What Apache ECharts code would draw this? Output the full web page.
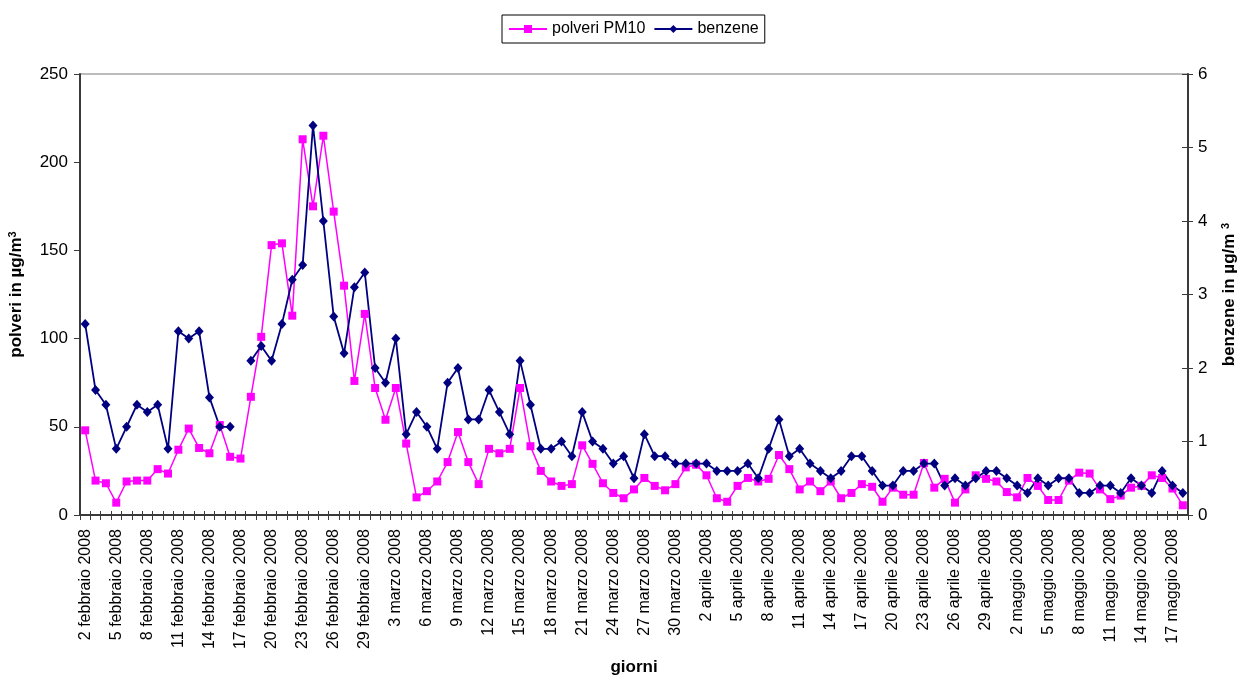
<!DOCTYPE html>
<html>
<head>
<meta charset="utf-8">
<script src="https://cdn.jsdelivr.net/npm/echarts@6/dist/echarts.min.js"></script>
<style>
  html, body { margin: 0; padding: 0; background: #fff; }
  #chart { width: 1239px; height: 680px; }
</style>
</head>
<body>
<div id="chart"></div>
<script>
// Daily readings, 2 February – 18 May 2008
const months = [
  ['febbraio', 2, 29],
  ['marzo', 1, 31],
  ['aprile', 1, 30],
  ['maggio', 1, 18]
];

// PM10 dust, µg/m³ (left axis)
const pm10 = [
  48, 19.5, 18, 7, 19, 19.5, 19.5, 26, 23.5, 37,
  49, 38, 35, 51, 33, 32, 67, 101, 153, 154,
  113, 213, 175, 215, 172, 130, 76, 114, 72, 54,
  72, 40.5, 10, 13.5, 19, 30, 47, 30, 17.5, 37.5,
  35, 37.5, 72, 39, 25, 19, 16.5, 17.5, 39.5, 29,
  18, 12.5, 9.5, 14.5, 21, 16.5, 14, 17.5, 27, 28.5,
  22.5, 9.5, 7.5, 16.5, 21, 19, 20.5, 34, 26, 14.5,
  19, 13.5, 19, 9.5, 12.5, 17.5, 16, 7.5, 15.5, 11.5,
  11.5, 29.5, 15.5, 20.5, 7, 14.5, 22.5, 20.5, 19, 13,
  10, 21, 16.5, 8.5, 8.5, 19.5, 24, 23.5, 14.5, 9,
  11, 15.5, 16.5, 22.5, 21, 15, 5.5
];

// Benzene, µg/m³ (right axis); null = no reading that day
const benzene = [
  2.6, 1.7, 1.5, 0.9, 1.2, 1.5, 1.4, 1.5, 0.9, 2.5,
  2.4, 2.5, 1.6, 1.2, 1.2, null, 2.1, 2.3, 2.1, 2.6,
  3.2, 3.4, 5.3, 4.0, 2.7, 2.2, 3.1, 3.3, 2.0, 1.8,
  2.4, 1.1, 1.4, 1.2, 0.9, 1.8, 2.0, 1.3, 1.3, 1.7,
  1.4, 1.1, 2.1, 1.5, 0.9, 0.9, 1.0, 0.8, 1.4, 1.0,
  0.9, 0.7, 0.8, 0.5, 1.1, 0.8, 0.8, 0.7, 0.7, 0.7,
  0.7, 0.6, 0.6, 0.6, 0.7, 0.5, 0.9, 1.3, 0.8, 0.9,
  0.7, 0.6, 0.5, 0.6, 0.8, 0.8, 0.6, 0.4, 0.4, 0.6,
  0.6, 0.7, 0.7, 0.4, 0.5, 0.4, 0.5, 0.6, 0.6, 0.5,
  0.4, 0.3, 0.5, 0.4, 0.5, 0.5, 0.3, 0.3, 0.4, 0.4,
  0.3, 0.5, 0.4, 0.3, 0.6, 0.4, 0.3
];

const leftTicks = { min: 0, max: 250, step: 50 };
const rightTicks = { min: 0, max: 6, step: 1 };

// Category labels: "2 febbraio 2008", "3 febbraio 2008", ...
const days = [];
months.forEach(([name, first, last]) => {
  for (let d = first; d <= last; d++) days.push(d + ' ' + name + ' 2008');
});

const FONT = '"Liberation Sans", Arial, Helvetica, sans-serif';
const AXIS_COLOR = '#3a3a3a';

const chart = echarts.init(document.getElementById('chart'), null, { renderer: 'canvas' });

chart.setOption({
  backgroundColor: '#ffffff',
  animation: false,
  textStyle: { fontFamily: FONT, color: '#000' },
  legend: {
    left: 502,
    top: 15,
    padding: [6, 6, 6, 6],
    itemGap: 8,
    itemWidth: 38,
    itemHeight: 10,
    borderColor: '#000',
    borderWidth: 1,
    textStyle: { fontFamily: FONT, fontSize: 16, color: '#000' },
    data: ['polveri PM10', 'benzene']
  },
  grid: {
    left: 80,
    right: 51,
    top: 74,
    bottom: 165,
    containLabel: false,
    outerBoundsMode: 'none',
    show: true,
    borderColor: '#a6a6a6',
    borderWidth: 1.5,
    backgroundColor: 'transparent'
  },
  xAxis: [
    {
      type: 'category',
      data: days,
      position: 'bottom',
      boundaryGap: true,
      axisLine: { lineStyle: { color: AXIS_COLOR, width: 2 } },
      axisTick: { show: true, interval: 0, length: 5, lineStyle: { color: AXIS_COLOR, width: 1 } },
      axisLabel: {
        interval: 2,
        rotate: 90,
        margin: 14,
        fontFamily: FONT,
        fontSize: 16,
        color: '#000'
      },
      splitLine: { show: false },
      name: 'giorni',
      nameLocation: 'middle',
      nameGap: 144,
      nameTextStyle: { fontFamily: FONT, fontSize: 17, fontWeight: 'bold', color: '#000' }
    },
    {
      // inner half of the crossing category ticks
      type: 'category',
      data: days,
      position: 'bottom',
      boundaryGap: true,
      axisLine: { show: false },
      axisTick: { show: true, inside: true, interval: 0, length: 4, lineStyle: { color: AXIS_COLOR, width: 1 } },
      axisLabel: { show: false },
      splitLine: { show: false }
    }
  ],
  yAxis: [
    {
      type: 'value',
      position: 'left',
      min: leftTicks.min,
      max: leftTicks.max,
      interval: leftTicks.step,
      axisLine: { show: true, lineStyle: { color: AXIS_COLOR, width: 2 } },
      axisTick: { show: true, length: 6, lineStyle: { color: AXIS_COLOR, width: 1 } },
      axisLabel: { fontFamily: FONT, fontSize: 17, color: '#000', margin: 12 },
      splitLine: { show: false },
      name: 'polveri in µg/m{sup|3}',
      nameLocation: 'middle',
      nameRotate: 90,
      nameGap: 54,
      nameTextStyle: {
        fontFamily: FONT, fontSize: 17, fontWeight: 'bold', color: '#000',
        rich: {
          sup: { fontFamily: FONT, fontSize: 11, fontWeight: 'bold', color: '#000', verticalAlign: 'top', padding: [0, 0, 8, 0] }
        }
      }
    },
    {
      type: 'value',
      position: 'right',
      min: rightTicks.min,
      max: rightTicks.max,
      interval: rightTicks.step,
      axisLine: { show: true, lineStyle: { color: AXIS_COLOR, width: 2 } },
      axisTick: { show: true, length: 5, lineStyle: { color: AXIS_COLOR, width: 1 } },
      axisLabel: { fontFamily: FONT, fontSize: 17, color: '#000', margin: 10 },
      splitLine: { show: false },
      name: 'benzene in µg/m {sup|3}',
      nameLocation: 'middle',
      nameRotate: 90,
      nameGap: 32,
      nameTextStyle: {
        fontFamily: FONT, fontSize: 17, fontWeight: 'bold', color: '#000',
        rich: {
          sup: { fontFamily: FONT, fontSize: 11, fontWeight: 'bold', color: '#000', verticalAlign: 'top', padding: [0, 0, 8, 0] }
        }
      }
    },
    {
      // inner half of the crossing ticks on the right axis
      type: 'value',
      position: 'right',
      min: rightTicks.min,
      max: rightTicks.max,
      interval: rightTicks.step,
      axisLine: { show: false },
      axisTick: { show: true, inside: true, length: 6, lineStyle: { color: AXIS_COLOR, width: 1 } },
      axisLabel: { show: false },
      splitLine: { show: false }
    }
  ],
  series: [
    {
      name: 'polveri PM10',
      type: 'line',
      xAxisIndex: 0,
      yAxisIndex: 0,
      data: pm10,
      symbol: 'rect',
      symbolSize: 8,
      showAllSymbol: true,
      connectNulls: false,
      itemStyle: { color: '#ff00ff' },
      lineStyle: { color: '#ff00ff', width: 1.5 }
    },
    {
      name: 'benzene',
      type: 'line',
      xAxisIndex: 0,
      yAxisIndex: 1,
      data: benzene,
      symbol: 'diamond',
      symbolSize: [9, 10],
      showAllSymbol: true,
      connectNulls: false,
      itemStyle: { color: '#000080' },
      lineStyle: { color: '#000080', width: 1.8 }
    }
  ]
});
</script>
</body>
</html>
